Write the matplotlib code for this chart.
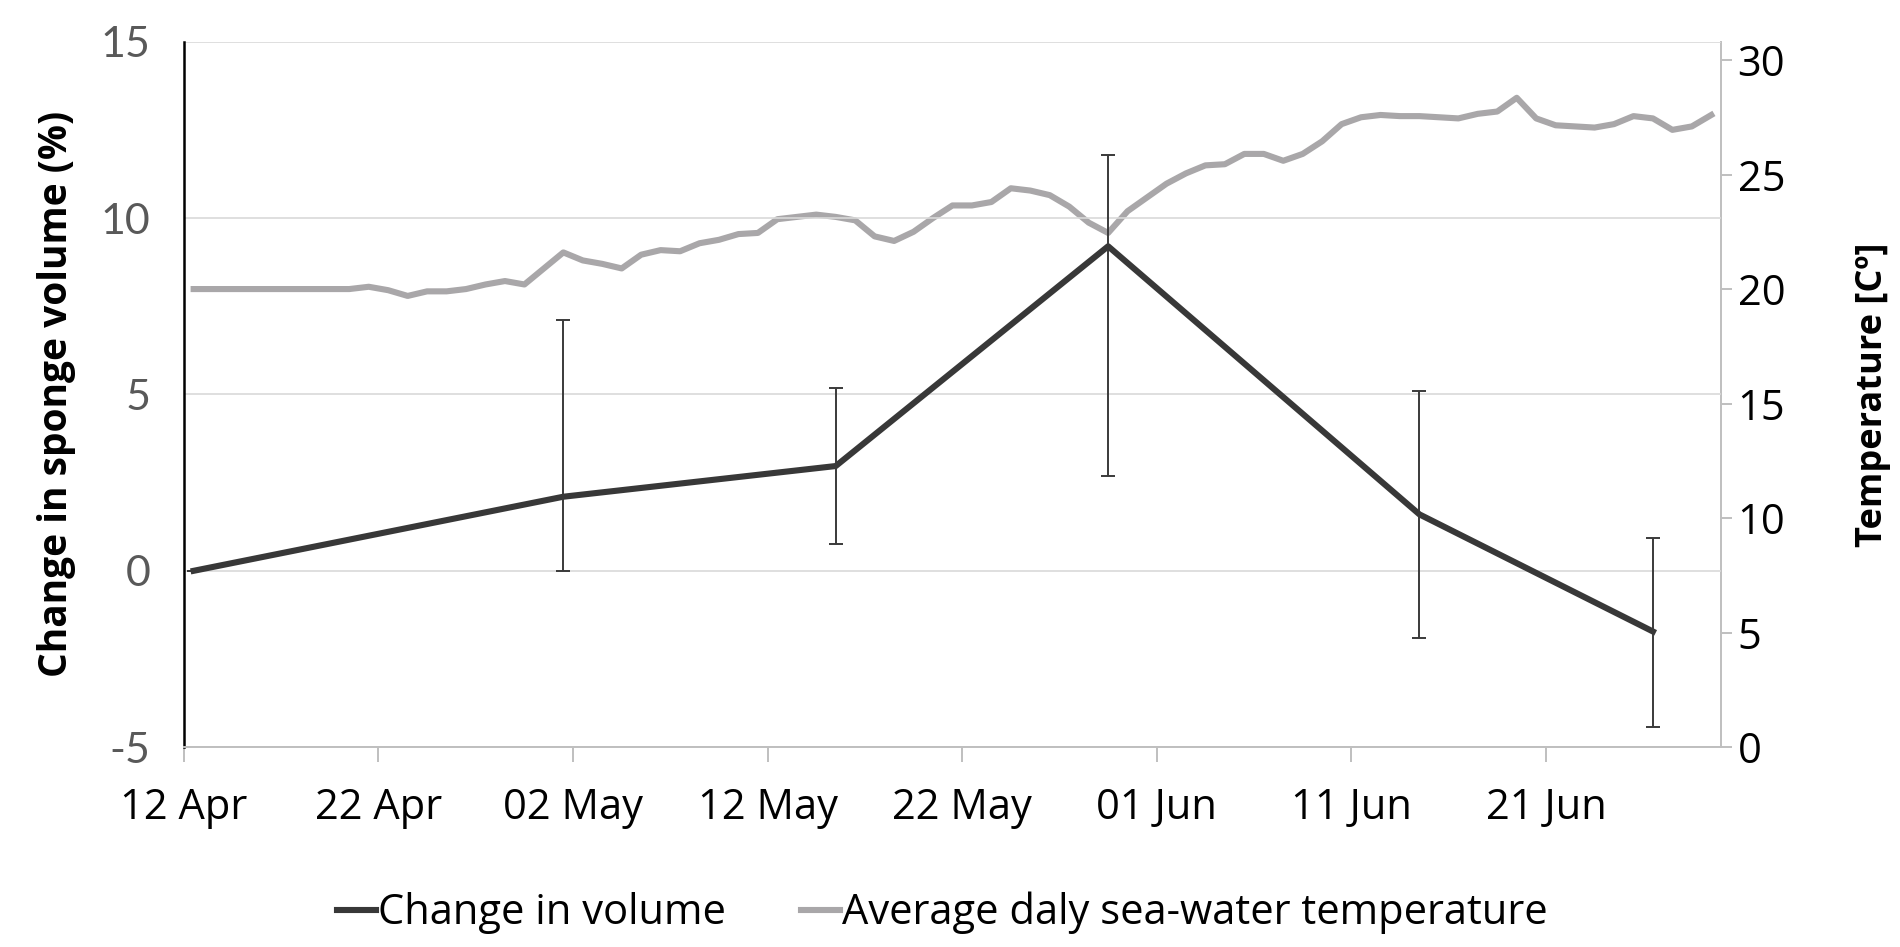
import matplotlib
matplotlib.use("Agg")
import matplotlib.pyplot as plt
import matplotlib.dates as mdates
import pandas as pd
import numpy as np

plt.rcParams['font.family'] = ['Open Sans', 'DejaVu Sans']

# daily sea-water temperature, one value per day from 12 Apr
temp_start = "2015-04-12"
temperature = [20.0, 20.0, 20.0, 20.0, 20.0, 20.0, 20.0, 20.0, 20.0, 20.1,
               19.95, 19.7, 19.9, 19.9, 20.0, 20.2, 20.35, 20.2, 20.9, 21.6,
               21.25, 21.1, 20.9, 21.5, 21.7, 21.65, 22.0, 22.15, 22.4, 22.45,
               23.05, 23.15, 23.25, 23.15, 23.0, 22.3, 22.1, 22.5, 23.1, 23.65,
               23.65, 23.8, 24.4, 24.3, 24.1, 23.6, 22.9, 22.45, 23.4, 24.0,
               24.6, 25.05, 25.4, 25.45, 25.9, 25.9, 25.6, 25.9, 26.45, 27.2,
               27.5, 27.6, 27.55, 27.55, 27.5, 27.45, 27.65, 27.75, 28.35, 27.45,
               27.15, 27.1, 27.05, 27.2, 27.55, 27.45, 26.95, 27.1, 27.6]

# sponge volume sampling dates
vol_dates = ["2015-04-12", "2015-05-01", "2015-05-15", "2015-05-29", "2015-06-14", "2015-06-26"]
volume = [0.0, 2.1, 2.97, 9.2, 1.6, -1.72]
err_low = [0.0, 2.1, 2.2, 6.5, 3.5, 2.7]
err_high = [0.0, 5.0, 2.2, 2.6, 3.5, 2.65]

tick_dates = ["2015-04-12", "2015-04-22", "2015-05-02", "2015-05-12",
              "2015-05-22", "2015-06-01", "2015-06-11", "2015-06-21"]

half_day = pd.Timedelta(hours=12)
t_days = pd.date_range(temp_start, periods=len(temperature), freq="D") + half_day
v_days = pd.to_datetime(vol_dates) + half_day

fig = plt.figure(figsize=(19, 9.47), dpi=100)
ax1 = fig.add_axes([0.0968, 0.211, 0.809, 0.745])
ax2 = ax1.twinx()
# volume drawn on top of temperature
ax1.set_zorder(ax2.get_zorder() + 1)
ax1.patch.set_visible(False)

l2, = ax2.plot(t_days, temperature, color="#a9a7a9", lw=4.4,
               label="Average daly sea-water temperature")
l1, = ax1.plot(v_days, volume, color="#383838", lw=4.4, label="Change in volume")
ax1.errorbar(v_days, volume, yerr=[err_low, err_high], fmt="none",
             ecolor="#3a3a3a", elinewidth=1.4, capsize=5, capthick=1.4)

ax1.set_ylim(-5, 15)
ax1.set_yticks([-5, 0, 5, 10, 15])
ax1.set_yticklabels(["-5", "0", "5", "10", "15"])
ax2.set_ylim(0, 30.8)
ax2.set_yticks([0, 5, 10, 15, 20, 25, 30])

ax1.set_xlim(pd.Timestamp(temp_start), pd.Timestamp("2015-06-30"))
ax1.set_xticks(pd.to_datetime(tick_dates))
ax1.xaxis.set_major_formatter(mdates.DateFormatter("%d %b"))

ax1.grid(axis="y", color="#d9d9d9", lw=1.2)
ax1.set_axisbelow(True)

for ax in (ax1, ax2):
    ax.spines["top"].set_visible(False)
ax1.spines["left"].set_color("black")
ax1.spines["left"].set_linewidth(1.8)
ax1.spines["bottom"].set_color("#bfbfbf")
ax1.spines["bottom"].set_linewidth(1.4)
ax1.spines["right"].set_visible(False)
ax2.spines["left"].set_visible(False)
ax2.spines["bottom"].set_visible(False)
ax2.spines["right"].set_color("#bfbfbf")
ax2.spines["right"].set_linewidth(1.4)

ax1.tick_params(axis="y", length=0, pad=24, labelsize=31, labelcolor="#595959")
for lab in ax1.get_yticklabels():
    lab.set_family("Lato")
ax1.tick_params(axis="x", length=11, width=1.4, color="#bfbfbf", pad=18, labelsize=30)
ax2.tick_params(axis="y", length=8, width=1.4, color="#bfbfbf", pad=4, labelsize=30)

ax1.set_ylabel("Change in sponge volume (%)", fontsize=28, fontweight="bold", labelpad=18)
ax2.set_ylabel("Temperature [Cº]", fontsize=26, fontweight="bold", labelpad=50)

fig.legend(handles=[l1, l2], loc="center", bbox_to_anchor=(0.496, 0.036), ncol=2,
           frameon=False, fontsize=30, handlelength=0.93, columnspacing=1.8,
           handletextpad=0.05)

fig.savefig("out.png", dpi=100)
